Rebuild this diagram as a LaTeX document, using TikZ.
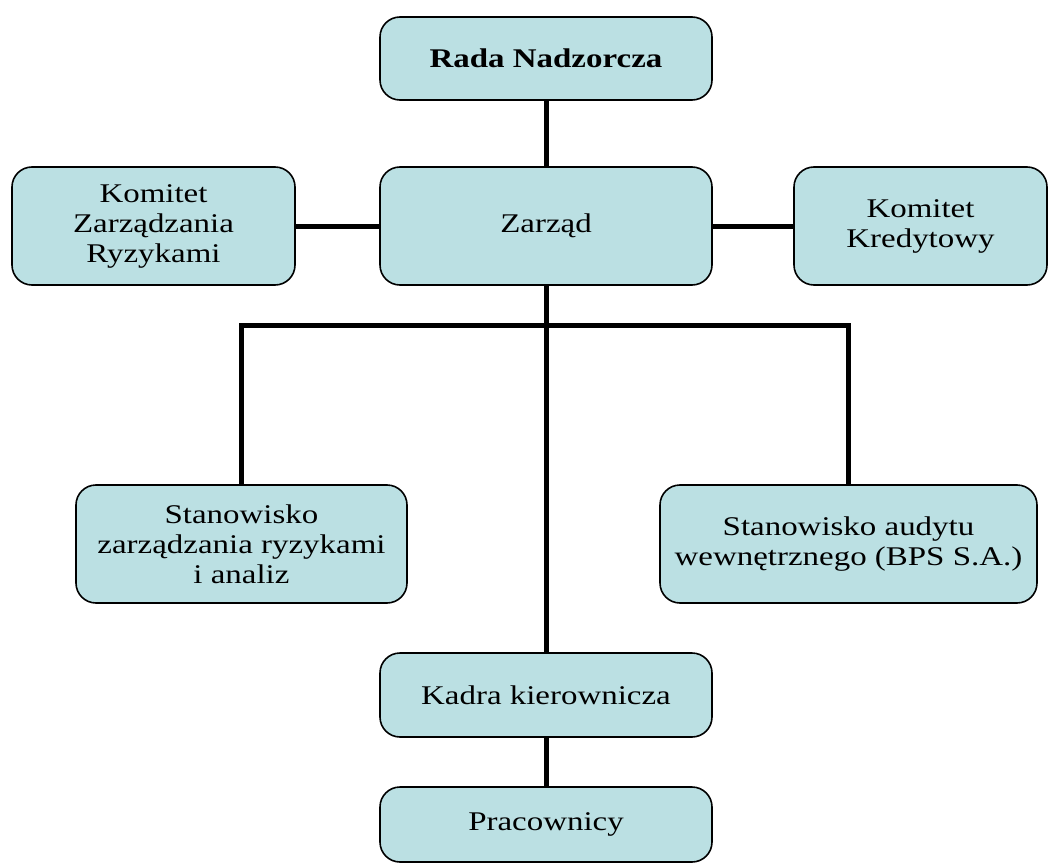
\documentclass[tikz,border=0pt]{standalone}
\usepackage{fontspec}
\setmainfont[FakeStretch=1.22]{Liberation Serif}
\definecolor{boxfill}{RGB}{187,224,227}
\tikzset{
  orgbox/.style={draw=black, line width=1.6pt, fill=boxfill, rounded corners=20pt,
    rectangle, inner sep=0pt, align=center, font=\fontsize{27}{30}\selectfont},
  conn/.style={line width=5pt}
}
\begin{document}
\begin{tikzpicture}[x=1pt,y=-1pt]
\useasboundingbox (0,0) rectangle (1050,864);
\node[orgbox, minimum width=332pt, minimum height=83pt] (rada) at (546,58.5) {\textbf{Rada Nadzorcza}};
\node[orgbox, minimum width=332pt, minimum height=118pt] (zarzad) at (546,226) {Zarząd};
\node[orgbox, minimum width=283pt, minimum height=118pt] (kzr) at (153.5,226) {Komitet\\Zarządzania\\Ryzykami};
\node[orgbox, minimum width=253pt, minimum height=118pt] (kk) at (920.5,226) {Komitet\\Kredytowy};
\node[orgbox, minimum width=331pt, minimum height=118pt] (szr) at (241.5,544) {Stanowisko\\zarządzania ryzykami\\i analiz};
\node[orgbox, minimum width=377pt, minimum height=118pt] (sa) at (848.5,544) {Stanowisko audytu\\wewnętrznego (BPS S.A.)};
\node[orgbox, minimum width=332pt, minimum height=84pt] (kadra) at (546,695) {Kadra kierownicza};
\node[orgbox, minimum width=332pt, minimum height=75pt] (prac) at (546,824.5) {Pracownicy};
\coordinate (bus) at (546,325);
\draw[conn] (rada.south) -- (zarzad.north);
\draw[conn] (kzr.east) -- (zarzad.west);
\draw[conn] (zarzad.east) -- (kk.west);
\draw[conn] (zarzad.south) -- (kadra.north);
\draw[conn] (szr.north) |- (bus) -| (sa.north);
\draw[conn] (kadra.south) -- (prac.north);
\end{tikzpicture}
\end{document}
